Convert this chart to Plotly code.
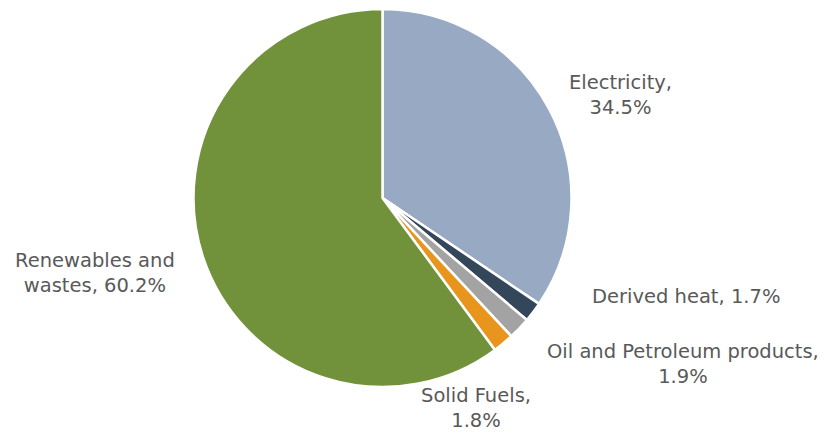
import plotly.graph_objects as go

W, H = 827, 434

categories = ["Electricity", "Derived heat", "Oil and Petroleum products", "Solid Fuels", "Renewables and wastes"]
values = [34.5, 1.7, 1.9, 1.8, 60.2]
colors = ["#98A9C4", "#33465A", "#A3A3A3", "#E8951E", "#71923A"]
# label text with the reference's line breaks
label_texts = ["Electricity,<br>{v}%", "Derived heat, {v}%", "Oil and Petroleum products,<br>{v}%",
               "Solid Fuels,<br>{v}%", "Renewables and<br>wastes, {v}%"]
# label centers in pixels (x, y from top)
label_pos = [(620, 95), (686, 296), (683, 364), (476, 408), (95, 273)]

cx, cy, r = 382.5, 198, 189

fig = go.Figure(go.Pie(
    labels=categories,
    values=values,
    sort=False,
    direction="clockwise",
    rotation=0,
    marker=dict(colors=colors, line=dict(color="white", width=2.5)),
    textinfo="none",
    hoverinfo="label+percent",
    showlegend=False,
    domain=dict(x=[(cx - r) / W, (cx + r) / W], y=[1 - (cy + r) / H, 1 - (cy - r) / H]),
))

for t, v, (px, py) in zip(label_texts, values, label_pos):
    fig.add_annotation(
        text=t.format(v=v), x=px / W, y=1 - py / H, xref="paper", yref="paper",
        xanchor="center", yanchor="middle", showarrow=False, align="center",
        font=dict(family="DejaVu Sans", size=19.5, color="#595959"),
    )

fig.update_layout(
    width=W, height=H, margin=dict(l=0, r=0, t=0, b=0),
    paper_bgcolor="white", plot_bgcolor="white",
)

fig.write_html("out.html")
